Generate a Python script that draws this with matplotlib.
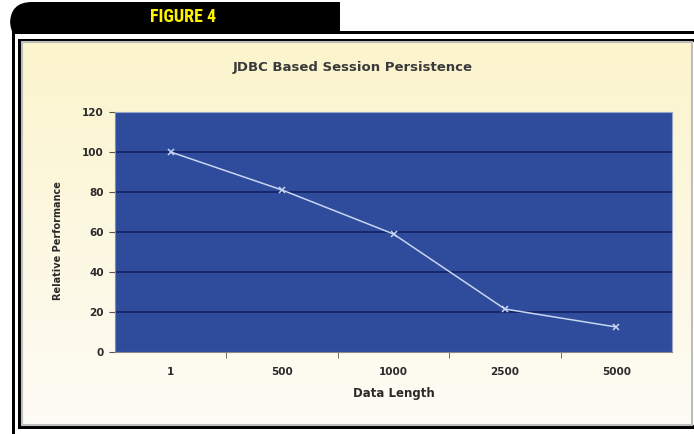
import numpy as np
import matplotlib.pyplot as plt
from matplotlib import font_manager
from matplotlib.patches import Rectangle, FancyBboxPatch

# data
data_length = ['1', '500', '1000', '2500', '5000']
relative_perf = [100, 81, 59, 21.5, 12.5]
yticks = [0, 20, 40, 60, 80, 100, 120]

# pick a narrow face for the tab label if one is installed
names = {f.name for f in font_manager.fontManager.ttflist}
tab_font, tab_size = 'DejaVu Sans', 9.5
for cand in ['Liberation Sans Narrow', 'Roboto Condensed', 'Open Sans Condensed', 'DejaVu Sans Condensed']:
    if cand in names:
        tab_font, tab_size = cand, 13
        break
if tab_font == 'DejaVu Sans' and 'Roboto' in names:
    tab_font, tab_size = 'Roboto', 11.5

W, H = 694, 434
fig = plt.figure(figsize=(W / 100, H / 100), dpi=100)
fig.patch.set_facecolor('white')

# background layer in pixel coords (y down)
bg = fig.add_axes([0, 0, 1, 1])
bg.axis('off')

# "FIGURE 4" tab, only top-left corner rounded
bg.add_patch(FancyBboxPatch((10, 2), 60, 40, boxstyle='round,pad=0,rounding_size=22',
                            fc='black', ec='none'))
bg.add_patch(Rectangle((40, 2), 300, 30, fc='black', ec='none'))
bg.add_patch(Rectangle((8, 32), 340, 15, fc='white', ec='none', zorder=1.5))
bg.text(183, 17, 'FIGURE 4', color='#FFF200', fontsize=tab_size, fontweight='bold',
        family=[tab_font, 'DejaVu Sans'], ha='center', va='center', zorder=2)

# frame lines
bg.add_patch(Rectangle((12, 31), W, 2.5, fc='black', ec='none', zorder=2))
bg.add_patch(Rectangle((12, 31), 3.5, H, fc='black', ec='none', zorder=2))
bg.add_patch(Rectangle((18, 38.5), W, 3.5, fc='black', ec='none', zorder=2))
bg.add_patch(Rectangle((18, 38.5), 3.5, 389, fc='black', ec='none', zorder=2))
bg.add_patch(Rectangle((18, 425), W, 4, fc='black', ec='none', zorder=2))

# cream gradient panel
grad = np.linspace(0, 1, 256).reshape(-1, 1, 1)
top = np.array([251, 244, 204]) / 255
bot = np.array([254, 252, 246]) / 255
img = top + (bot - top) * grad
bg.imshow(img, extent=(22, 692, 425, 42), aspect='auto', zorder=3)
bg.add_patch(Rectangle((22, 42), 670, 383, fc='none', ec='#bdbdbd', lw=1.5, zorder=4))
bg.set_xlim(0, W)
bg.set_ylim(H, 0)

bg.text(353, 67, 'JDBC Based Session Persistence', fontsize=9.5, fontweight='bold',
        color='#3a3a3a', ha='center', va='center', zorder=5)

# plot area
ax = fig.add_axes([115 / W, 1 - 352 / H, 557 / W, 240 / H])
ax.set_facecolor('#2F4B9C')
x = np.arange(len(data_length))
ax.set_xlim(-0.5, len(data_length) - 0.5)
ax.set_ylim(0, 120)
ax.set_yticks(yticks)
for v in yticks[1:-1]:
    ax.axhline(v, color='#17266A', lw=1.4, zorder=1)
ax.plot(x, relative_perf, color='#C7D6F2', lw=1.1, marker='x', ms=5, mew=1.1, zorder=3)

ax.set_xticks(x)
ax.set_xticklabels(data_length)
ax.set_xticks(np.arange(0.5, len(data_length) - 0.5, 1), minor=True)
ax.tick_params(axis='x', which='major', length=0, pad=11, labelsize=7.5, colors='#2a2a2a')
ax.tick_params(axis='x', which='minor', length=4, color='#555555', direction='out')
ax.tick_params(axis='y', length=4, color='#555555', labelcolor='#2a2a2a', pad=4, labelsize=7.5)
for lab in ax.get_xticklabels() + ax.get_yticklabels():
    lab.set_fontweight('bold')
for s in ['top', 'right']:
    ax.spines[s].set_color('#9aa6c8')
ax.spines['left'].set_color('#8a8a8a')
ax.spines['bottom'].set_color('#8a8a8a')

ax.set_xlabel('Data Length', fontsize=8.5, fontweight='bold', color='#2a2a2a', labelpad=7)
ax.set_ylabel('Relative Performance', fontsize=7, fontweight='bold', color='#2a2a2a')
ax.yaxis.set_label_coords(-0.093, 0.4625)

fig.savefig('out.png', dpi=100)
